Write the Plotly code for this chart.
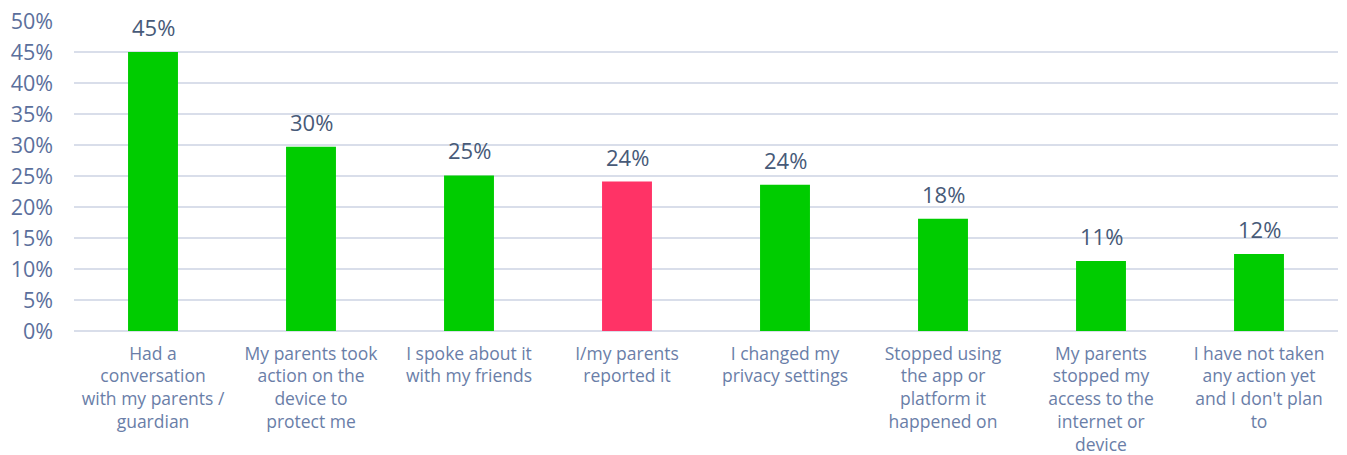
import plotly.graph_objects as go

# Survey responses: action taken after the incident
categories = [
    "Had a<br>conversation<br>with my parents /<br>guardian",
    "My parents took<br>action on the<br>device to<br>protect me",
    "I spoke about it<br>with my friends",
    "I/my parents<br>reported it",
    "I changed my<br>privacy settings",
    "Stopped using<br>the app or<br>platform it<br>happened on",
    "My parents<br>stopped my<br>access to the<br>internet or<br>device",
    "I have not taken<br>any action yet<br>and I don't plan<br>to",
]
values = [45.0, 29.7, 25.1, 24.1, 23.6, 18.1, 11.3, 12.4]
highlight = "I/my parents<br>reported it"

GREEN = "#00CC00"
PINK = "#FF3366"
colors = [PINK if c == highlight else GREEN for c in categories]

FONT = "Open Sans"
TICK_COLOR = "#5B6F9C"
LABEL_COLOR = "#475A78"
GRID = "#D9DEEA"

fig = go.Figure(
    go.Bar(
        x=categories,
        y=values,
        marker=dict(color=colors, line=dict(width=0)),
        hoverinfo="skip",
    )
)

# Value labels above each bar
for c, v in zip(categories, values):
    fig.add_annotation(
        x=c, y=v, text=f"{round(v):d}%", showarrow=False,
        yanchor="bottom", yshift=8,
        font=dict(family=FONT, size=22, color=LABEL_COLOR),
    )

fig.update_layout(
    width=1347, height=455,
    margin=dict(l=74, r=9, t=21, b=124, autoexpand=False),
    plot_bgcolor="white", paper_bgcolor="white",
    bargap=0.684,
    showlegend=False,
    font=dict(family=FONT, color=TICK_COLOR),
    xaxis=dict(
        tickfont=dict(family=FONT, size=17.5, color="#6A7EA8"),
        showgrid=False, showline=False, ticks="",
        tickangle=0, ticklabelstandoff=10, automargin=False,
    ),
    yaxis=dict(
        range=[0, 50], dtick=5, ticksuffix="%",
        tickfont=dict(family=FONT, size=21.5, color=TICK_COLOR),
        showgrid=True, gridcolor=GRID, gridwidth=2,
        zeroline=True, zerolinecolor=GRID, zerolinewidth=2,
        showline=False, ticks="", ticklabelstandoff=20, automargin=False,
    ),
)

fig.write_html("out.html")
